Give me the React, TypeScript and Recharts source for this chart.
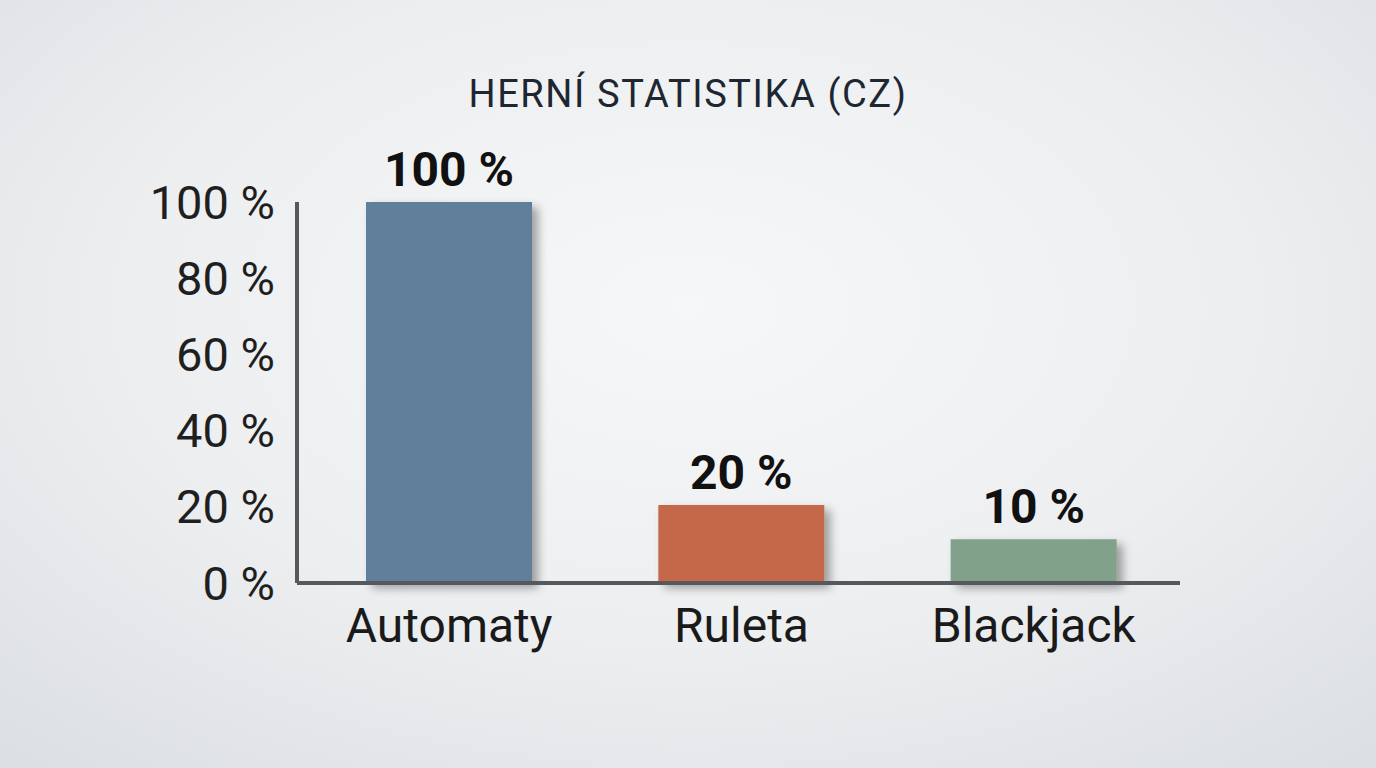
import { Bar, BarChart, Cell, LabelList, XAxis, YAxis } from 'recharts';

const categories = ['Automaty', 'Ruleta', 'Blackjack'];
const shares = [100, 20.5, 11.5];
const shareLabels = ['100 %', '20 %', '10 %'];
const yTicks = [0, 20, 40, 60, 80, 100];

const COLORS = ['#5e7f9b', '#c5674a', '#81a18b'];

const data = categories.map((name, i) => ({ name, value: shares[i], label: shareLabels[i] }));

const FONT = 'Roboto, "Noto Sans", sans-serif';

export default function App() {
    return (
        <div
            style={{
                position: 'absolute',
                top: 0,
                left: 0,
                width: 1376,
                height: 768,
                overflow: 'hidden',
                fontFamily: FONT,
                background:
                    'radial-gradient(ellipse 75% 80% at 50% 40%, #f6f7f8 0%, #eceef0 55%, #dcdfe2 100%)',
            }}
        >
            <div
                style={{
                    position: 'absolute',
                    top: 75,
                    left: 0,
                    width: 1376,
                    textAlign: 'center',
                    fontSize: 38,
                    lineHeight: '38px',
                    letterSpacing: 1.6,
                    color: '#1e2731',
                }}
            >
                HERNÍ STATISTIKA (CZ)
            </div>
            <BarChart
                width={1376}
                height={768}
                data={data}
                margin={{ top: 202, right: 196, bottom: 0, left: 0 }}
                style={{ position: 'absolute', top: 0, left: 0 }}
            >
                <defs>
                    <filter id="barShadow" x="-20%" y="-20%" width="150%" height="150%">
                        <feDropShadow dx="6" dy="5" stdDeviation="5" floodColor="#000" floodOpacity="0.35" />
                    </filter>
                </defs>
                <XAxis
                    dataKey="name"
                    height={185}
                    padding={{ left: 6, right: 0 }}
                    axisLine={{ stroke: '#56595c', strokeWidth: 4 }}
                    tickLine={false}
                    tickSize={0}
                    tickMargin={25}
                    tick={{ fontSize: 48, fill: '#1a1a1a', fontFamily: FONT }}
                />
                <YAxis
                    width={297}
                    domain={[0, 100]}
                    ticks={yTicks}
                    tickFormatter={(v: number) => `${v} %`}
                    axisLine={{ stroke: '#56595c', strokeWidth: 4 }}
                    tickLine={false}
                    tickSize={0}
                    tickMargin={22}
                    tick={{ fontSize: 47, fill: '#1f1f1f', fontFamily: FONT }}
                />
                <Bar dataKey="value" barSize={166} isAnimationActive={false}>
                    {data.map((entry, index) => (
                        <Cell key={`cell-${index}`} fill={COLORS[index]} filter="url(#barShadow)" />
                    ))}
                    <LabelList
                        dataKey="label"
                        position="top"
                        offset={16}
                        style={{ fontSize: 48, fontWeight: 700, fill: '#111', fontFamily: FONT }}
                    />
                </Bar>
            </BarChart>
        </div>
    );
}
